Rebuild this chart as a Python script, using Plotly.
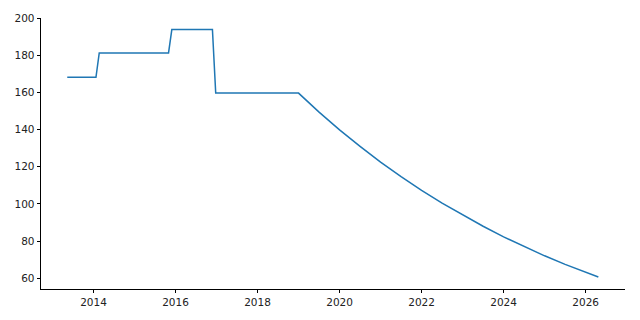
import plotly.graph_objects as go

# Values
years = [2013.36, 2014.06, 2014.14, 2015.83, 2015.91, 2016.90, 2016.98, 2019.0,
         2019.5, 2020.0, 2020.5, 2021.0, 2021.5, 2022.0, 2022.5, 2023.0,
         2023.5, 2024.0, 2024.5, 2025.0, 2025.5, 2026.0, 2026.31]
values = [168.1, 168.1, 181.2, 181.2, 193.8, 193.8, 159.6, 159.6,
          149.4, 139.8, 131.0, 122.5, 114.7, 107.3, 100.4, 94.0,
          88.0, 82.3, 77.0, 72.1, 67.5, 63.2, 60.7]
x_ticks = [2014, 2016, 2018, 2020, 2022, 2024, 2026]
y_ticks = [60, 80, 100, 120, 140, 160, 180, 200]

fig = go.Figure()
fig.add_trace(go.Scatter(x=years, y=values, mode="lines",
                         line=dict(color="#1f77b4", width=1.5),
                         showlegend=False, hoverinfo="skip"))

axis_common = dict(showgrid=False, zeroline=False, showline=True,
                   linecolor="black", linewidth=0.8, ticks="outside",
                   ticklen=3.5, tickwidth=0.8, tickcolor="black",
                   tickfont=dict(family="DejaVu Sans", size=10.5, color="#222"),
                   mirror=False)

fig.update_layout(
    width=640, height=320,
    margin=dict(l=41, r=15, t=16, b=30, pad=0),
    paper_bgcolor="white", plot_bgcolor="white",
    xaxis=dict(range=[2012.72, 2026.96], tickvals=x_ticks,
               ticktext=[str(t) for t in x_ticks], **axis_common),
    yaxis=dict(range=[54.25, 200], tickvals=y_ticks,
               ticktext=[str(t) for t in y_ticks], **axis_common),
)

fig.write_html("out.html")
